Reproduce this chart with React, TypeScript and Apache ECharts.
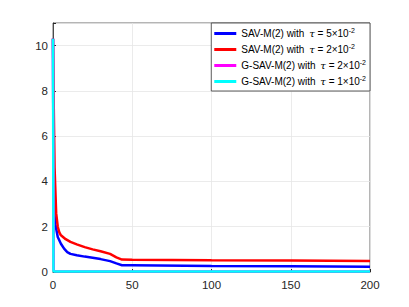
import React, { useEffect, useRef } from "react";
import * as echarts from "echarts";

const xTicks = [0, 50, 100, 150, 200];
const yTicks = [0, 2, 4, 6, 8, 10];

const seriesNames = [
  "SAV-M(2) with τ = 5×10^-2",
  "SAV-M(2) with τ = 2×10^-2",
  "G-SAV-M(2) with τ = 2×10^-2",
  "G-SAV-M(2) with τ = 1×10^-2",
];
const seriesLabels = [
  ["SAV-M(2) with ", "5"],
  ["SAV-M(2) with ", "2"],
  ["G-SAV-M(2) with ", "2"],
  ["G-SAV-M(2) with ", "1"],
];
const seriesColors = ["#0000ff", "#ff0000", "#ff00ff", "#00ffff"];

const blueData: [number, number][] = [
  [0, 10.3], [0.3, 3.5], [0.8, 2.6], [1.5, 2.1], [3, 1.55], [5, 1.25], [7, 1.03],
  [9, 0.88], [11, 0.8], [15, 0.74], [20, 0.68], [25, 0.63], [30, 0.57], [36, 0.48],
  [40, 0.38], [43.5, 0.3], [50, 0.3], [100, 0.27], [150, 0.25], [200, 0.23],
];
const redData: [number, number][] = [
  [0, 10.3], [0.5, 7.2], [1, 4.6], [2, 2.6], [3, 2.0], [4, 1.75], [5, 1.62], [8, 1.45],
  [11, 1.33], [15, 1.22], [20, 1.1], [25, 1.0], [30, 0.92], [36, 0.8], [40, 0.65],
  [43.5, 0.55], [50, 0.54], [100, 0.52], [150, 0.51], [200, 0.49],
];
const magentaData: [number, number][] = [
  [0, 10.3], [0.5, 0.05], [1, 0.03], [50, 0.02], [100, 0.02], [150, 0.02], [200, 0.02],
];
const cyanData: [number, number][] = [
  [0, 10.3], [0.3, 0.03], [1, 0.02], [50, 0.02], [100, 0.02], [150, 0.02], [200, 0.02],
];
const allData = [blueData, redData, magentaData, cyanData];

export default function App() {
  const ref = useRef<HTMLDivElement>(null);
  useEffect(() => {
    if (!ref.current) return;
    const chart = echarts.init(ref.current, undefined, { renderer: "svg" });
    const axisColor = "#262626";
    const fontFamily = "Liberation Sans, Arial, sans-serif";
    chart.setOption({
      animation: false,
      backgroundColor: "#ffffff",
      grid: {
        left: 53,
        right: 39,
        top: 23,
        bottom: 35,
        show: true,
        borderColor: "#444444",
        borderWidth: 0.8,
      },
      xAxis: {
        type: "value",
        min: 0,
        max: 200,
        interval: 50,
        axisLine: { show: true, lineStyle: { color: axisColor, width: 0.8 } },
        axisTick: { show: true, inside: true, length: 3, lineStyle: { color: axisColor } },
        axisLabel: {
          color: axisColor,
          fontSize: 11.5,
          fontFamily,
          margin: 7,
          formatter: (v: number) => (xTicks.includes(v) ? String(v) : ""),
        },
        splitLine: { show: true, lineStyle: { color: "#e6e6e6", width: 0.8 } },
      },
      yAxis: {
        type: "value",
        min: 0,
        max: 11,
        interval: 2,
        axisLine: { show: true, lineStyle: { color: axisColor, width: 0.8 } },
        axisTick: { show: true, inside: true, length: 3, lineStyle: { color: axisColor } },
        axisLabel: {
          color: axisColor,
          fontSize: 11.5,
          fontFamily,
          margin: 5,
          formatter: (v: number) => (yTicks.includes(v) ? String(v) : ""),
        },
        splitLine: { show: true, lineStyle: { color: "#e6e6e6", width: 0.8 } },
      },
      legend: {
        orient: "vertical",
        right: 39,
        top: 23,
        icon: "rect",
        itemWidth: 22,
        itemHeight: 3,
        itemGap: 3,
        padding: [4, 4, 3, 3],
        backgroundColor: "#ffffff",
        borderColor: "#333333",
        borderWidth: 0.8,
        data: seriesNames,
        formatter: (name: string) => {
          const i = seriesNames.indexOf(name);
          const [pre, coef] = seriesLabels[i];
          return `{a|${pre}}{t|τ}{a| = ${coef}×10}{s|-2}`;
        },
        textStyle: {
          color: "#000000",
          fontFamily,
          fontSize: 10,
          rich: {
            a: { fontSize: 10, fontFamily, color: "#000", lineHeight: 13 },
            t: { fontSize: 10, fontFamily: "DejaVu Serif, serif", fontStyle: "italic", color: "#000", lineHeight: 13, padding: [0, 0, 0, 2] },
            s: { fontSize: 7, fontFamily, color: "#000", lineHeight: 13, padding: [0, 0, 6, 0] },
          },
        },
      },
      series: allData.map((d, i) => ({
        name: seriesNames[i],
        type: "line",
        data: d,
        showSymbol: false,
        symbol: "none",
        color: seriesColors[i],
        lineStyle: { color: seriesColors[i], width: 2.5 },
        z: 2 + i,
      })),
    });
    return () => chart.dispose();
  }, []);
  return (
    <div
      ref={ref}
      style={{ position: "fixed", left: 0, top: 0, width: 409, height: 307 }}
    />
  );
}
